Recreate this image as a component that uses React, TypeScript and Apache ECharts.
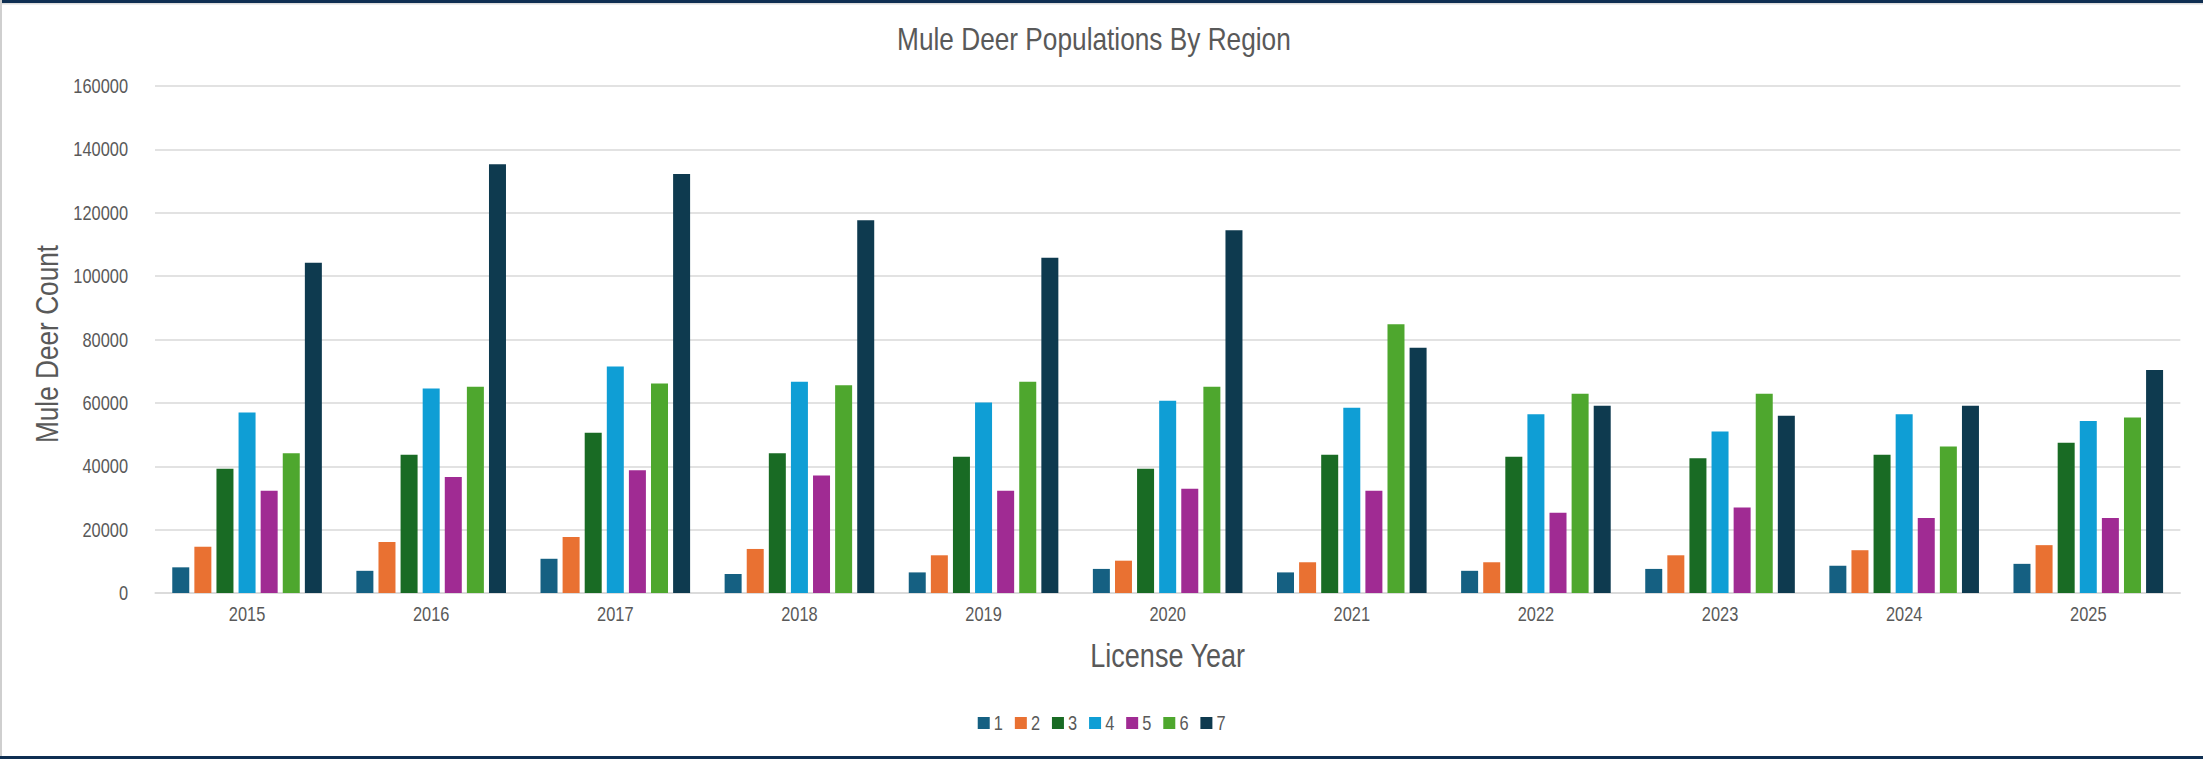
import React, { useEffect, useRef } from "react";
import * as echarts from "echarts";

// License years on the category axis
const years = ["2015", "2016", "2017", "2018", "2019", "2020", "2021", "2022", "2023", "2024", "2025"];

// Mule deer counts per region, one value per license year
const region1 = [8100, 7000, 10800, 6000, 6500, 7600, 6500, 7000, 7600, 8600, 9200];
const region2 = [14600, 16100, 17700, 13900, 11900, 10200, 9700, 9700, 11900, 13500, 15100];
const region3 = [39200, 43600, 50600, 44100, 43000, 39200, 43600, 43000, 42500, 43600, 47400];
const region4 = [57000, 64500, 71500, 66700, 60100, 60700, 58500, 56400, 51000, 56400, 54300];
const region5 = [32300, 36600, 38700, 37100, 32300, 32900, 32300, 25300, 27000, 23700, 23700];
const region6 = [44100, 65100, 66100, 65600, 66700, 65100, 84800, 62900, 62900, 46200, 55400];
const region7 = [104200, 135300, 132200, 117600, 105800, 114500, 77400, 59100, 55900, 59100, 70400];

const regionNames = ["1", "2", "3", "4", "5", "6", "7"];
const regionValues = [region1, region2, region3, region4, region5, region6, region7];
const regionColors = ["#156082", "#E97132", "#196B24", "#0F9ED5", "#A02B93", "#4EA72E", "#0E3A4F"];

// The chart is laid out on a wider canvas and squeezed horizontally,
// which gives the Arial-metric font a narrow (condensed) look.
const SQUEEZE = 0.82;
const PAGE_W = 2203;
const PAGE_H = 759;
const CANVAS_W = PAGE_W / SQUEEZE;
const sx = (px: number) => px / SQUEEZE;

const FONT = "'Liberation Sans', Arial, sans-serif";
const TEXT = "#595959";
const FRAME = "#0f2f52";

const TITLE = "Mule Deer Populations By Region";
const TITLE_SIZE = 32;

export default function App() {
  const ref = useRef<HTMLDivElement>(null);

  useEffect(() => {
    if (!ref.current) return;
    const chart = echarts.init(ref.current, undefined, { renderer: "svg" });
    const titleWidth = echarts.format.getTextRect
      ? (echarts.format as any).getTextRect(TITLE, `${TITLE_SIZE}px ${FONT}`).width
      : 480;
    chart.setOption({
      animation: false,
      backgroundColor: "#ffffff",
      textStyle: { fontFamily: FONT },
      title: {
        text: TITLE,
        left: sx(1094) - titleWidth / 2 - 5,
        top: 18,
        textStyle: { fontFamily: FONT, fontSize: TITLE_SIZE, fontWeight: "normal", color: TEXT },
      },
      legend: {
        data: regionNames,
        left: "center",
        top: 708,
        itemWidth: sx(12),
        itemHeight: 12,
        itemGap: 14.5,
        icon: "rect",
        textStyle: { fontFamily: FONT, fontSize: 20, color: TEXT },
      },
      grid: { left: sx(155), right: sx(23), top: 86, bottom: 166, containLabel: false },
      xAxis: {
        type: "category",
        data: years,
        name: "License Year",
        nameLocation: "middle",
        nameGap: 46,
        nameTextStyle: { fontFamily: FONT, fontSize: 33, color: TEXT },
        axisLine: { show: true, lineStyle: { color: "#d9d9d9", width: 1.5 } },
        axisTick: { show: false },
        axisLabel: { fontFamily: FONT, fontSize: 20, color: TEXT, margin: 11 },
      },
      yAxis: {
        type: "value",
        min: 0,
        max: 160000,
        interval: 20000,
        axisLine: { show: false },
        axisTick: { show: false },
        axisLabel: {
          fontFamily: FONT,
          fontSize: 20,
          color: TEXT,
          margin: sx(27),
          formatter: (v: number) => String(v),
        },
        splitLine: { lineStyle: { color: "#d9d9d9", width: 1.5 } },
      },
      series: regionNames.map((name, i) => ({
        name,
        type: "bar",
        data: regionValues[i],
        barWidth: sx(17),
        barGap: "30%",
        itemStyle: { color: regionColors[i] },
      })),
      graphic: [
        // value axis title, rotated; scaled so it stays narrow after the squeeze
        {
          type: "text",
          x: sx(47),
          y: 344,
          rotation: Math.PI / 2,
          scaleX: SQUEEZE,
          scaleY: 1 / SQUEEZE,
          style: {
            text: "Mule Deer Count",
            fontFamily: FONT,
            fontSize: 32,
            fill: TEXT,
            align: "center",
            verticalAlign: "middle",
          },
        },
        // frame
        { type: "rect", shape: { x: 0, y: 0, width: CANVAS_W, height: 3 }, style: { fill: FRAME } },
        { type: "rect", shape: { x: 0, y: 3, width: CANVAS_W, height: 1.5 }, style: { fill: "#dcdcdc" } },
        { type: "rect", shape: { x: 0, y: 0, width: sx(2), height: PAGE_H }, style: { fill: "#cfcfcf" } },
        { type: "rect", shape: { x: 0, y: PAGE_H - 3, width: CANVAS_W, height: 3 }, style: { fill: FRAME } },
      ],
    });
    return () => chart.dispose();
  }, []);

  return (
    <div
      style={{
        position: "absolute",
        left: 0,
        top: 0,
        width: PAGE_W,
        height: PAGE_H,
        overflow: "hidden",
        background: "#ffffff",
      }}
    >
      <div
        ref={ref}
        style={{
          width: CANVAS_W,
          height: PAGE_H,
          transform: `scaleX(${SQUEEZE})`,
          transformOrigin: "0 0",
        }}
      />
    </div>
  );
}
